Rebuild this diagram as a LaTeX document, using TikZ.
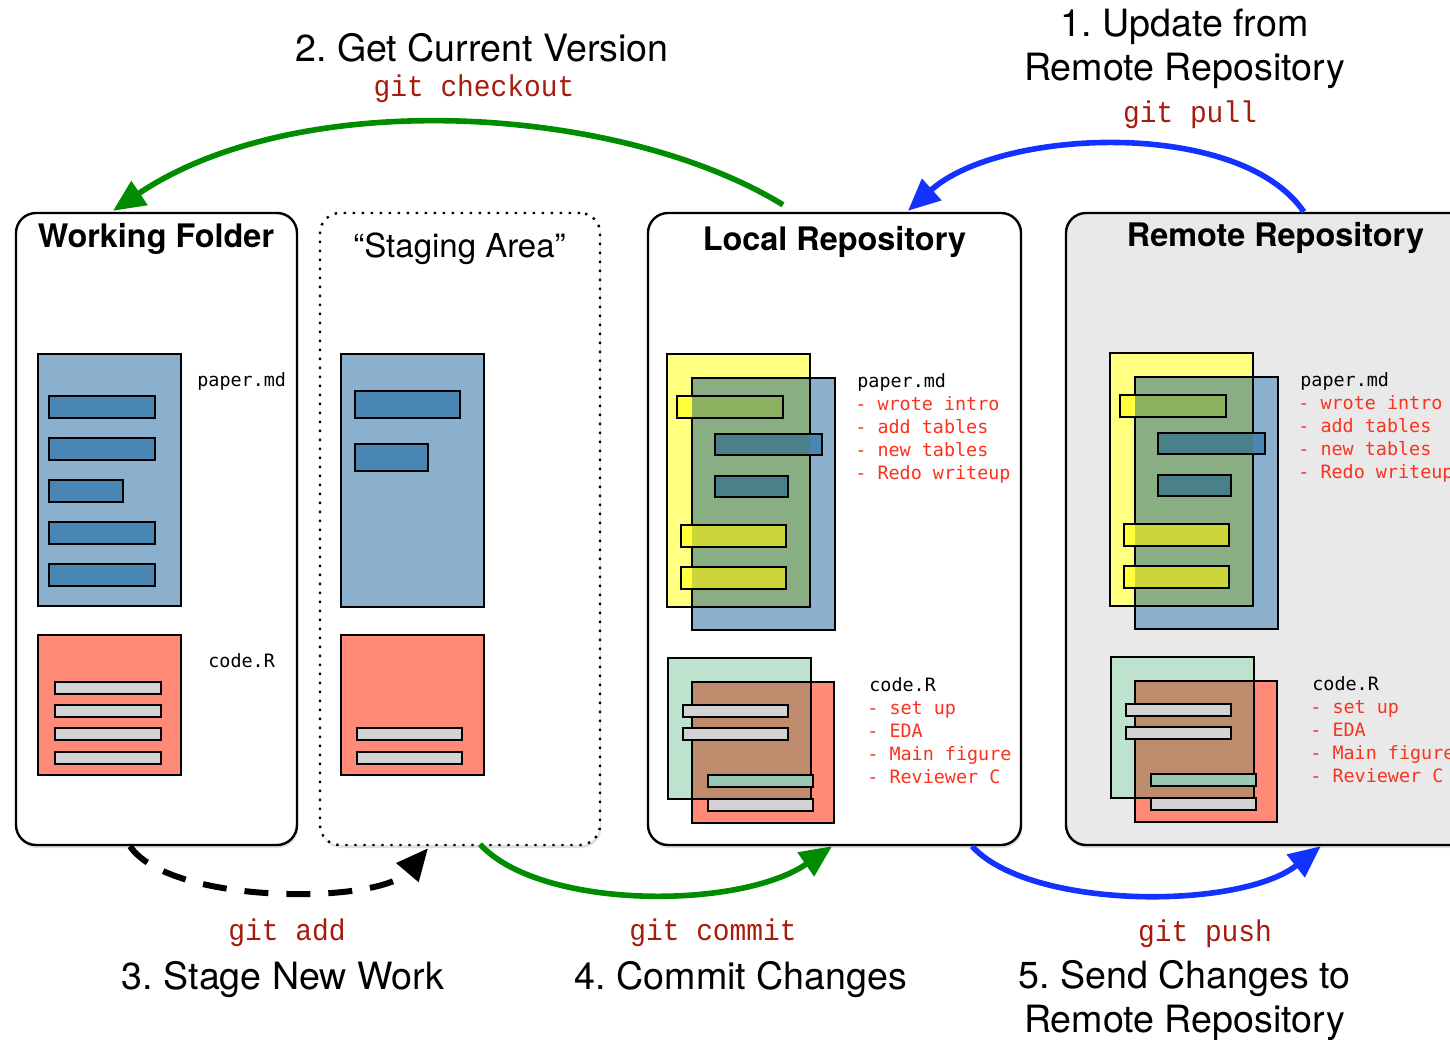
\documentclass[tikz,border=0pt]{standalone}
\usepackage{fontspec}
\setmainfont{TeX Gyre Heros}
\newfontfamily\listfont{DejaVu Sans Mono}
\newfontfamily\gitfont[FakeStretch=0.93]{Liberation Mono}
\usepackage{xcolor}
\usepackage{tikz}
\usetikzlibrary{arrows.meta,positioning,calc,shadows}
\frenchspacing

\definecolor{docblue}{RGB}{139,176,206}
\definecolor{barblue}{RGB}{74,134,180}
\definecolor{barteal}{RGB}{74,128,136}
\definecolor{docred}{RGB}{255,138,120}
\definecolor{bargray}{RGB}{211,211,211}
\definecolor{docyellow}{RGB}{255,255,128}
\definecolor{baryellow}{RGB}{255,255,60}
\definecolor{barolive}{RGB}{204,214,58}
\definecolor{bargreen}{RGB}{138,176,96}
\definecolor{docmint}{RGB}{189,227,207}
\definecolor{docsage}{RGB}{137,174,131}
\definecolor{docbrown}{RGB}{190,140,108}
\definecolor{barmint}{RGB}{155,198,180}
\definecolor{remotegray}{RGB}{233,233,233}
\definecolor{gitred}{RGB}{165,28,12}
\definecolor{listred}{RGB}{250,50,30}
\definecolor{pullblue}{RGB}{20,50,255}
\definecolor{commitgreen}{RGB}{0,140,0}

\tikzset{
  panel/.style={draw, line width=1.2pt, rounded corners=10pt, minimum height=316pt, inner sep=0pt,
    drop shadow={shadow xshift=0.6pt, shadow yshift=-1.5pt, opacity=0.25}},
  doc/.style={draw, line width=1pt},
  areatitle/.style={font=\fontsize{16.2}{19}\selectfont\bfseries, anchor=base, inner sep=0pt},
  actiontext/.style={font=\fontsize{18.8}{22}\selectfont, align=center, anchor=north, inner sep=0pt},
  gitcmd/.style={font=\gitfont\fontsize{15}{18}\selectfont, text=gitred, anchor=base, inner sep=0pt},
  fname/.style={font=\listfont\fontsize{9.2}{11}\selectfont, anchor=base west, inner sep=0pt},
  flow/.style={line width=2.8pt, -{Triangle[length=16pt,width=14pt]}},
}

% both versions of the files, as kept in a repository
\newcommand\repofiles[1]{%
  % paper.md
  \fill[docyellow] (667,354) rectangle (810,607);
  \fill[docblue] (692,378) rectangle (835,630);
  \fill[docsage] (692,378) rectangle (810,607);
  \draw[doc] (667,354) rectangle (810,607);
  \draw[doc] (692,378) rectangle (835,630);
  \fill[baryellow] (677,396) rectangle (692,418);
  \fill[bargreen] (692,396) rectangle (783,418);
  \draw[doc] (677,396) rectangle (783,418);
  \fill[barteal] (715,434) rectangle (810,455);
  \fill[barblue] (810,434) rectangle (822,455);
  \draw[doc] (715,434) rectangle (822,455);
  \filldraw[doc, fill=barteal] (715,476) rectangle (788,497);
  \foreach \y in {525,567} {
    \fill[baryellow] (681,\y) rectangle (692,\y+22);
    \fill[barolive] (692,\y) rectangle (786,\y+22);
    \draw[doc] (681,\y) rectangle (786,\y+22);
  }
  % code.R
  \fill[docred] (692,682) rectangle (834,823);
  \fill[docmint] (668,658) rectangle (811,799);
  \fill[docbrown] (692,682) rectangle (811,799);
  \draw[doc] (668,658) rectangle (811,799);
  \draw[doc] (692,682) rectangle (834,823);
  \foreach \y in {705,728}
    \filldraw[doc, fill=bargray] (683,\y) rectangle ++(105,12);
  \filldraw[doc, fill=barmint] (708,775) rectangle ++(105,12);
  \filldraw[doc, fill=bargray] (708,799) rectangle ++(105,12);
  % change lists
  \node[fname] (#1paper) at (857,387) {paper.md};
  \foreach \txt [count=\i] in {wrote intro, add tables, new tables, Redo writeup}
    \node[fname, text=listred] (#1paper\i) at (855,387+23*\i) {- \txt};
  \node[fname] (#1code) at (869,691) {code.R};
  \foreach \txt [count=\i] in {set up, EDA, Main figure, Reviewer C}
    \node[fname, text=listred] (#1code\i) at (867,691+23*\i) {- \txt};
}

\begin{document}
\begin{tikzpicture}[x=0.5pt, y=-0.5pt]
    \useasboundingbox (0,0) rectangle (1450,1039);
    \clip (0,0) rectangle (1450,1039);

    % the four areas
    \node[panel, fill=white, minimum width=140.5pt] (wf) at (156.5,529) {};
    \node[panel, fill=white, minimum width=140pt, dash pattern=on 1.2pt off 3.3pt] (stage) at (460,529) {};
    \node[panel, fill=white, minimum width=186.5pt] (local) at (834.5,529) {};
    \node[panel, fill=remotegray, minimum width=212pt] (remote) at (1278,529) {};

    \node[areatitle] (wftitle) at (156,247) {Working Folder};
    \node[areatitle, font=\fontsize{16.5}{19}\selectfont] (stagetitle) at (459.5,257) {``Staging Area''};
    \node[areatitle] (localtitle) at (834.5,250) {Local Repository};
    \node[areatitle] (remotetitle) at (1275.5,246) {Remote Repository};

    % Working Folder
    \filldraw[doc, fill=docblue] (38,354) rectangle (181,606);
    \foreach \y/\w in {396/106, 438/106, 480/74, 522/106, 564/106}
        \filldraw[doc, fill=barblue] (49,\y) rectangle ++(\w,22);
    \node[fname] (wfpaper) at (197,386) {paper.md};
    \filldraw[doc, fill=docred] (38,635) rectangle (181,775);
    \foreach \y in {682,705,728,752}
        \filldraw[doc, fill=bargray] (55,\y) rectangle ++(106,12);
    \node[fname] (wfcode) at (208,667) {code.R};

    % Staging Area
    \filldraw[doc, fill=docblue] (341,354) rectangle (484,607);
    \filldraw[doc, fill=barblue] (355,391) rectangle ++(105,27);
    \filldraw[doc, fill=barblue] (355,444) rectangle ++(73,27);
    \filldraw[doc, fill=docred] (341,635) rectangle (484,775);
    \foreach \y in {728,752}
        \filldraw[doc, fill=bargray] (357,\y) rectangle ++(105,12);

    % Local and Remote Repository
    \repofiles{local}
    \begin{scope}[shift={(443,-1)}]
        \repofiles{remote}
    \end{scope}

    % commands
    \draw[flow, commitgreen] ($(local.north)+(-51.5,-7)$) .. controls (620,105) and (300,85) .. ($(wf.north)+(-43.5,-1)$);
    \draw[flow, pullblue] ($(remote.north west)+(239,0)$) .. controls (1240,118) and (1000,128) .. ($(local.north)+(73.5,-1)$);
    \draw[line width=3pt, dash pattern=on 12pt off 9pt, -{Triangle[length=16pt,width=14pt]}]
        ($(wf.south)+(-26.5,0)$) .. controls (170,905) and (380,905) .. ($(stage.south)+(-32,2)$);
    \draw[flow, commitgreen] ($(stage.south)+(20,-2)$) .. controls (540,910) and (740,910) .. ($(local.south)+(-2.5,0)$);
    \draw[flow, pullblue] ($(local.south)+(137.5,0)$) .. controls (1030,910) and (1240,910) .. ($(remote.south west)+(256,0)$);

    \node[actiontext] (stepone) at (1184.5,9) {1. Update from\\Remote Repository};
    \node[gitcmd] (pull) at (1190,122) {git pull};
    \node[actiontext] (steptwo) at (482,33) {2. Get Current Version};
    \node[gitcmd] (checkout) at (474,96) {git checkout};
    \node[gitcmd] (add) at (287,940) {git add};
    \node[actiontext] (stepthree) at (283,961) {3. Stage New Work};
    \node[gitcmd] (commit) at (713,940) {git commit};
    \node[actiontext] (stepfour) at (741,961) {4. Commit Changes};
    \node[gitcmd] (push) at (1205,941) {git push};
    \node[actiontext] (stepfive) at (1184.5,960) {5. Send Changes to\\Remote Repository};
\end{tikzpicture}
\end{document}
